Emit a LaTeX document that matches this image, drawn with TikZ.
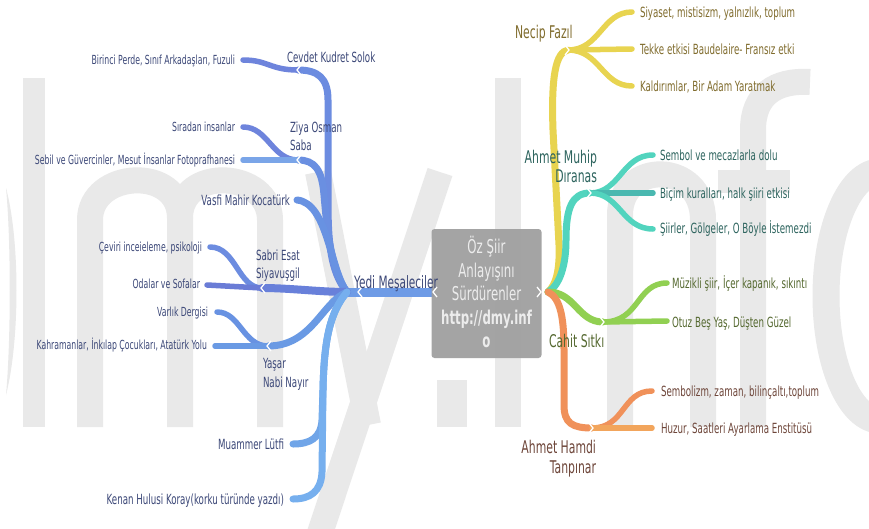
\documentclass[tikz,border=0pt]{standalone}
\usepackage{fontspec}
\setmainfont{DejaVu Sans}[FakeStretch=0.62]
\definecolor{wmc}{RGB}{233,233,233}
\definecolor{ltxt}{RGB}{60,72,120}
\definecolor{bA}{RGB}{108,140,224}
\definecolor{bB}{RGB}{106,143,225}
\definecolor{bC}{RGB}{104,146,226}
\definecolor{bD}{RGB}{104,128,218}
\definecolor{bE}{RGB}{106,154,228}
\definecolor{bF}{RGB}{112,165,232}
\definecolor{bG}{RGB}{118,175,238}
\definecolor{bY}{RGB}{110,155,230}
\definecolor{lA}{RGB}{110,132,220}
\definecolor{lSeb}{RGB}{122,165,232}
\definecolor{lOd}{RGB}{106,124,214}
\definecolor{yel}{RGB}{232,212,80}
\definecolor{yelT}{RGB}{128,108,45}
\definecolor{tea}{RGB}{82,212,190}
\definecolor{teaD}{RGB}{74,184,176}
\definecolor{teaT}{RGB}{45,100,94}
\definecolor{gre}{RGB}{145,208,82}
\definecolor{greT}{RGB}{85,105,48}
\definecolor{ora}{RGB}{240,145,90}
\definecolor{oraL}{RGB}{242,165,92}
\definecolor{oraT}{RGB}{110,70,58}
\definecolor{boxc}{RGB}{158,158,158}
\definecolor{boxt}{RGB}{236,236,236}
\newcommand\notchL[1]{\draw[white,line width=1.3pt] ([shift={(3,-5)}]#1) -- ([shift={(-1,0)}]#1) -- ([shift={(3,5)}]#1);}
\newcommand\notchR[1]{\draw[white,line width=1.3pt] ([shift={(-3,-5)}]#1) -- ([shift={(1,0)}]#1) -- ([shift={(-3,5)}]#1);}
\tikzset{
  wm/.style={draw=wmc, line width=26pt},
  trunk/.style={line width=7pt, line cap=round},
  leaf/.style={line width=5.5pt, line cap=round},
  txt/.style={inner sep=0pt, outer sep=0pt},
  lleaf/.style={txt, anchor=base east, text=ltxt, font=\fontsize{12.5}{15}\selectfont},
  lsub/.style={txt, text=ltxt, font=\fontsize{14}{17}\selectfont},
  rleaf/.style={txt, anchor=base west, font=\fontsize{14}{17}\selectfont},
  rsub/.style={txt, font=\fontsize{17.5}{20}\selectfont},
  boxline/.style={txt, anchor=base, text=boxt, font=\fontsize{19}{22}\selectfont}
}
\begin{document}
\begin{tikzpicture}[x=1pt,y=-1pt]
\useasboundingbox (0,0) rectangle (869,528);
\fill[white] (0,0) rectangle (869,528);
% watermark "dmy.info"
\begin{scope}
\clip (0,0) rectangle (869,528);
\fill[wmc] (23,78) rectangle (45,427);
\fill[wmc] (6,188) .. controls (20,240) and (20,340) .. (6,395) .. controls (11,340) and (11,240) .. (6,188);
\draw[wm] (90,427) -- (90,220) .. controls (90,170) and (180,165) .. (180,218) -- (180,427);
\draw[wm] (180,218) .. controls (180,165) and (270,170) .. (270,220) -- (270,427);
\draw[wm] (318,172) -- (368,425);
\draw[wm] (440,172) -- (316,545);
\fill[wmc] (437,380) rectangle (467,427);
\fill[wmc] (495,78) rectangle (521,427);
\draw[wm] (620,427) -- (620,215) .. controls (620,160) and (703,160) .. (703,220) -- (703,427);
\draw[wm] (753,427) -- (753,130) .. controls (753,95) and (775,80) .. (810,82);
\fill[wmc] (718,170) rectangle (790,193);
\draw[wmc, line width=27pt] (880,296) ellipse [x radius=54, y radius=124];
\end{scope}

% coordinates
\coordinate (hubL) at (347,292);
\coordinate (hubR) at (548,292);
\coordinate (yediJ) at (359,292);
\coordinate (boxW) at (434,292);
\coordinate (boxE) at (540,292);
\coordinate (cevJ) at (298,70);
\coordinate (ziyJ) at (298,160);
\coordinate (vasE) at (297,200);
\coordinate (sabJ) at (262,288);
\coordinate (yasJ) at (268,346);
\coordinate (muaE) at (293,444);
\coordinate (kenE) at (293,499);
\coordinate (birE) at (243,60);
\coordinate (sirE) at (243,127);
\coordinate (sebE) at (243,160);
\coordinate (cevrE) at (210,247);
\coordinate (odaE) at (207,285);
\coordinate (varE) at (217,312);
\coordinate (kahE) at (215,346);
\coordinate (necJ) at (568,50);
\coordinate (murJ) at (590,193);
\coordinate (cahJ) at (603,322);
\coordinate (ahmJ) at (592,428);
\coordinate (siyE) at (632,12);
\coordinate (tekE) at (632,49);
\coordinate (kalE) at (632,86);
\coordinate (semE) at (653,155);
\coordinate (bicE) at (653,193);
\coordinate (siiE) at (653,229);
\coordinate (muzE) at (667,283);
\coordinate (otuE) at (667,321);
\coordinate (symE) at (652,391);
\coordinate (huzE) at (652,428);

% left branches
\draw[bY, line width=9pt] (boxW) -- (yediJ) -- (hubL);
\draw[trunk,bA] (hubL) .. controls (330,272) and (328,240) .. (328,200) -- (328,100) .. controls (328,78) and (318,70) .. (cevJ);
\draw[trunk,bB] (hubL) .. controls (330,270) and (326,218) .. (324,195) .. controls (322,170) and (315,160) .. (ziyJ);
\draw[trunk,bC] (hubL) .. controls (330,270) and (328,203) .. (vasE);
\draw[bD, line width=8pt, line cap=round] (hubL) .. controls (320,292) and (290,288) .. (sabJ);
\draw[trunk,bE] (hubL) .. controls (322,302) and (312,346) .. (yasJ);
\draw[trunk,bF] (hubL) .. controls (330,312) and (324,340) .. (323,390) -- (322,420) .. controls (321,438) and (310,444) .. (muaE);
\draw[trunk,bG] (hubL) .. controls (330,312) and (324,340) .. (323,390) -- (322,472) .. controls (321,492) and (310,499) .. (kenE);
\draw[leaf,lA] (cevJ) .. controls (270,70) and (268,60) .. (birE);
\draw[leaf,lA] (ziyJ) .. controls (272,160) and (268,127) .. (sirE);
\draw[leaf,lSeb] (ziyJ) -- (sebE);
\draw[leaf,bA] (sabJ) .. controls (238,288) and (236,247) .. (cevrE);
\draw[leaf,lOd] (sabJ) -- (odaE);
\draw[leaf,bC] (yasJ) .. controls (243,346) and (240,312) .. (varE);
\draw[leaf,bE] (yasJ) -- (kahE);

% right branches
\draw[trunk,yel] (hubR) .. controls (556,285) and (560,270) .. (559,245) -- (553,130) .. controls (551,75) and (556,52) .. (necJ);
\draw[trunk,tea] (hubR) .. controls (560,285) and (566,265) .. (566,240) .. controls (566,208) and (572,193) .. (murJ);
\draw[trunk,gre] (hubR) .. controls (575,292) and (578,322) .. (cahJ);
\draw[trunk,ora] (hubR) .. controls (561,298) and (564,320) .. (564,350) -- (564,405) .. controls (564,423) and (572,428) .. (ahmJ);
\draw[leaf,yel] (necJ) .. controls (600,50) and (602,12) .. (siyE);
\draw[leaf,yel] (necJ) -- (tekE);
\draw[leaf,yel] (necJ) .. controls (600,50) and (602,86) .. (kalE);
\draw[leaf,tea] (murJ) .. controls (620,193) and (622,155) .. (semE);
\draw[leaf,teaD] (murJ) -- (bicE);
\draw[leaf,tea] (murJ) .. controls (620,193) and (622,229) .. (siiE);
\draw[leaf,gre] (cahJ) .. controls (640,322) and (636,283) .. (muzE);
\draw[leaf,gre] (cahJ) -- (otuE);
\draw[leaf,ora] (ahmJ) .. controls (625,428) and (622,391) .. (symE);
\draw[leaf,oraL] (ahmJ) -- (huzE);

% notches
\notchL{yediJ}
\notchL{cevJ}
\notchL{ziyJ}
\notchL{sabJ}
\notchL{yasJ}
\notchR{necJ}
\notchR{murJ}
\notchR{cahJ}
\notchR{ahmJ}

% central box
\node[fill=boxc, fill opacity=0.93, rounded corners=3pt, minimum width=110pt, minimum height=129pt, inner sep=0pt] (box) at (486.5,293.5) {};
\notchL{boxW}
\notchR{boxE}
\node[boxline] (b1) at (486.5,253.5) {Öz Şiir};
\node[boxline] (b2) at (486.5,277) {Anlayışını};
\node[boxline] (b3) at (486.5,300.5) {Sürdürenler};
\node[boxline, font=\fontsize{19}{22}\selectfont\bfseries] (b4) at (486.5,324) {http://dmy.inf};
\node[boxline, font=\fontsize{19}{22}\selectfont\bfseries] (b5) at (486.5,347.5) {o};

% left texts
\node[txt, anchor=base west, text=ltxt, font=\fontsize{17}{20}\selectfont] (yedi) at (354,288) {Yedi Meşaleciler};
\node[lsub, anchor=base west] (cevdet) at (287,62) {Cevdet Kudret Solok};
\node[lsub, anchor=base west] (ziya1) at (290,132) {Ziya Osman};
\node[lsub, anchor=base west] (ziya2) at (290,150) {Saba};
\node[lsub, anchor=base east] (vasfi) at (290,205) {Vasfi Mahir Kocatürk};
\node[lsub, anchor=base west] (sabri1) at (256,260) {Sabri Esat};
\node[lsub, anchor=base west] (sabri2) at (256,278) {Siyavuşgil};
\node[lsub, anchor=base west] (yasar1) at (263,368) {Yaşar};
\node[lsub, anchor=base west] (yasar2) at (263,387) {Nabi Nayır};
\node[lsub, anchor=base east] (muammer) at (284,449) {Muammer Lütfi};
\node[lsub, anchor=base east] (kenan) at (284,504) {Kenan Hulusi Koray(korku türünde yazdı)};
\node[lleaf] (tBir) at (235,64.5) {Birinci Perde, Sınıf Arkadaşları, Fuzuli};
\node[lleaf] (tSir) at (235,131.5) {Sıradan insanlar};
\node[lleaf] (tSeb) at (235,164.5) {Sebil ve Güvercinler, Mesut İnsanlar Fotoprafhanesi};
\node[lleaf] (tCev) at (202,251.5) {Çeviri inceieleme, psikoloji};
\node[lleaf] (tOda) at (200,288.5) {Odalar ve Sofalar};
\node[lleaf] (tVar) at (208,316.5) {Varlık Dergisi};
\node[lleaf] (tKah) at (207,349.5) {Kahramanlar, İnkılap Çocukları, Atatürk Yolu};

% right texts
\node[rsub, anchor=base west, text=yelT] (necip) at (515,38) {Necip Fazıl};
\node[rsub, anchor=base east, text=teaT] (muhip1) at (597,163) {Ahmet Muhip};
\node[rsub, anchor=base east, text=teaT] (muhip2) at (597,182) {Dıranas};
\node[rsub, anchor=base west, text=greT] (cahit) at (549,347) {Cahit Sıtkı};
\node[rsub, anchor=base east, text=oraT] (hamdi1) at (596,453) {Ahmet Hamdi};
\node[rsub, anchor=base east, text=oraT] (hamdi2) at (596,473) {Tanpınar};
\node[rleaf, text=yelT] (tSiy) at (640,17) {Siyaset, mistisizm, yalnızlık, toplum};
\node[rleaf, text=yelT] (tTek) at (640,54) {Tekke etkisi Baudelaire- Fransız etki};
\node[rleaf, text=yelT] (tKal) at (640,91) {Kaldırımlar, Bir Adam Yaratmak};
\node[rleaf, text=teaT] (tSem) at (660,160) {Sembol ve mecazlarla dolu};
\node[rleaf, text=teaT] (tBic) at (660,198) {Biçim kuralları, halk şiiri etkisi};
\node[rleaf, text=teaT] (tSii) at (660,233) {Şiirler, Gölgeler, O Böyle İstemezdi};
\node[rleaf, text=greT] (tMuz) at (672,288) {Müzikli şiir, İçer kapanık, sıkıntı};
\node[rleaf, text=greT] (tOtu) at (672,327) {Otuz Beş Yaş, Düşten Güzel};
\node[rleaf, text=oraT] (tSym) at (661,396) {Sembolizm, zaman, bilinçaltı,toplum};
\node[rleaf, text=oraT] (tHuz) at (661,433) {Huzur, Saatleri Ayarlama Enstitüsü};
\end{tikzpicture}
\end{document}
